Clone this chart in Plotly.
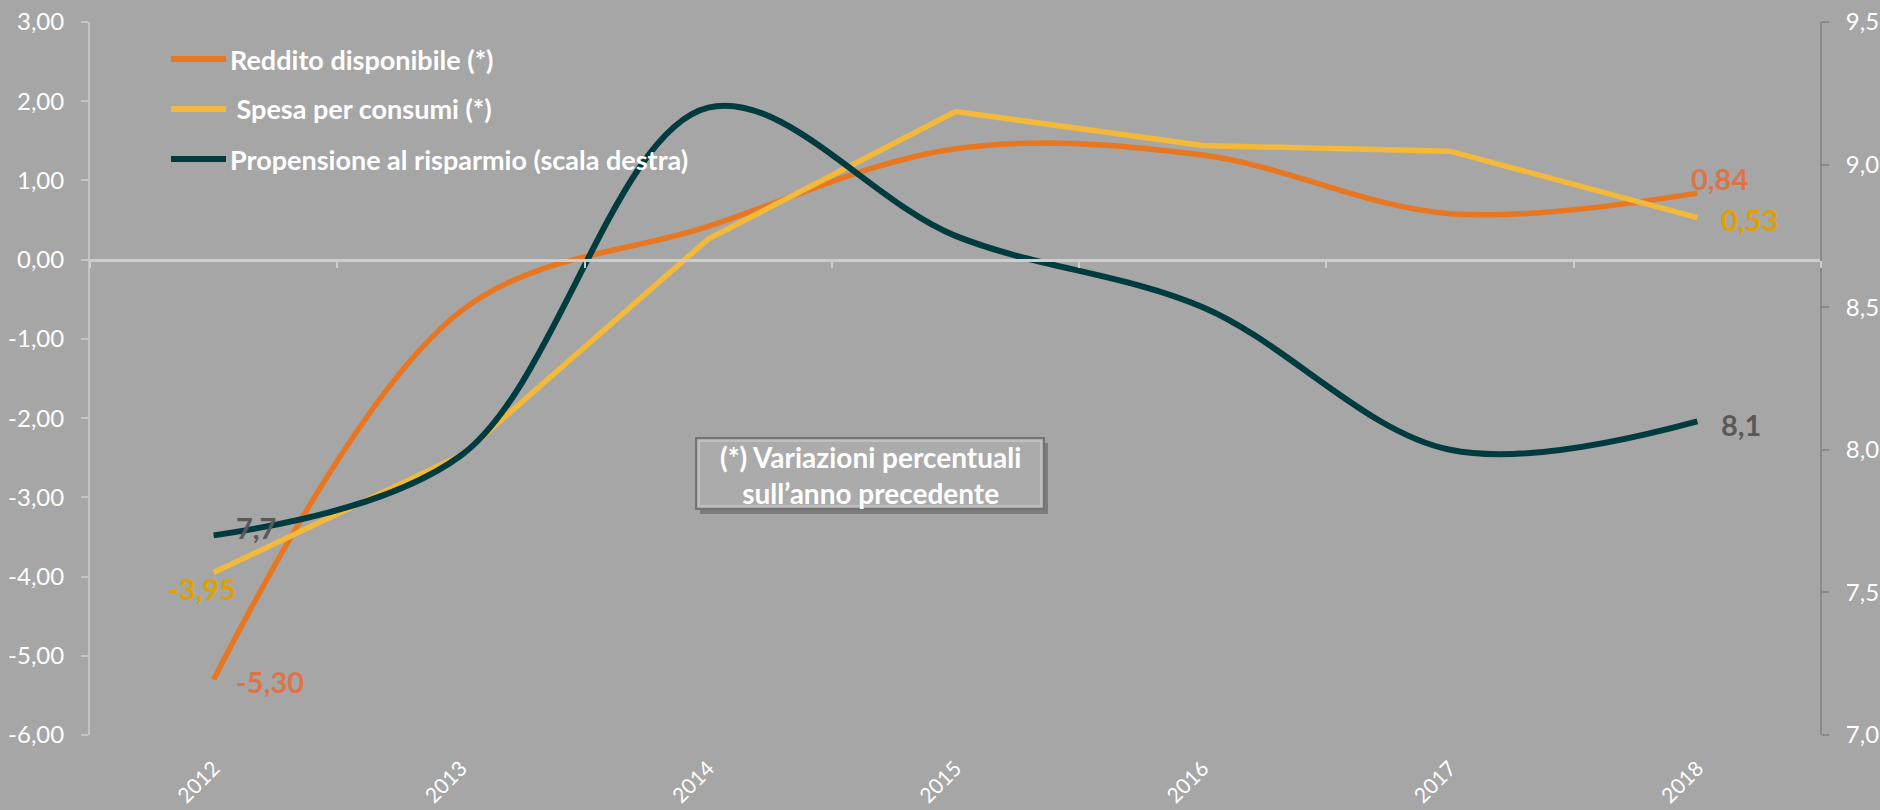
import plotly.graph_objects as go

# --- data -------------------------------------------------------------
anni = ["2012", "2013", "2014", "2015", "2016", "2017", "2018"]
reddito = [-5.30, -0.65, 0.42, 1.40, 1.32, 0.58, 0.84]        # % change
spesa = [-3.95, -2.47, 0.26, 1.87, 1.44, 1.37, 0.53]          # % change
propensione = [7.7, 7.98, 9.20, 8.75, 8.50, 8.00, 8.1]        # right scale

tick_sx = [3, 2, 1, 0, -1, -2, -3, -4, -5, -6]
tick_dx = [7.0, 7.5, 8.0, 8.5, 9.0, 9.5]

nomi = ["Reddito disponibile (*)", "\u00a0Spesa per consumi (*)",
        "Propensione al risparmio (scala destra)"]
nota = "(*) Variazioni percentuali<br>sull\u2019anno precedente"

# --- style ------------------------------------------------------------
FONT = "Lato"
BG = "#a6a6a6"
C_RED = "#e87722"
C_SPE = "#f2b93b"
C_PRO = "#003b3f"
L_RED = "#dd7448"
L_SPE = "#e0a000"
L_PRO = "#595959"

W, H = 1880, 810
ML, MR, MT, MB = 90, 59, 22, 75
PW, PH = W - ML - MR, H - MT - MB


def px_x(p):
    return (p - ML) / PW


def px_y(p):
    return (H - MB - p) / PH


def fmt(v, d):
    # decimal comma, plain hyphen for negatives
    return f"{v:.{d}f}".replace(".", ",")


xs = list(range(len(anni)))

fig = go.Figure()
fig.add_trace(go.Scatter(x=xs, y=reddito, mode="lines", name=nomi[0],
                         line=dict(color=C_RED, width=5.5, shape="spline", smoothing=1.0),
                         hoverinfo="skip"))
fig.add_trace(go.Scatter(x=xs, y=spesa, mode="lines", name=nomi[1],
                         line=dict(color=C_SPE, width=5.5),
                         hoverinfo="skip"))
fig.add_trace(go.Scatter(x=xs, y=propensione, mode="lines", name=nomi[2],
                         xaxis="x2", yaxis="y2",
                         line=dict(color=C_PRO, width=6, shape="spline", smoothing=1.0),
                         hoverinfo="skip"))

xr = [-0.5, len(anni) - 0.5]
yr = [min(tick_sx), max(tick_sx)]
y2r = [min(tick_dx), max(tick_dx)]
zero_pos = (0 - yr[0]) / (yr[1] - yr[0])

fig.update_layout(
    width=W, height=H,
    margin=dict(l=ML, r=MR, t=MT, b=MB, pad=0, autoexpand=False),
    paper_bgcolor=BG, plot_bgcolor=BG,
    showlegend=False,
    font=dict(family=FONT, color="white", size=24),
    xaxis=dict(range=xr, tickmode="array", tickvals=xs, ticktext=anni,
               tickangle=-45, showline=False, showgrid=False, zeroline=False,
               ticks="", ticklabelstandoff=16, automargin=False,
               tickfont=dict(family=FONT, size=21, color="white")),
    # category axis drawn along the zero line, ticks between categories
    xaxis2=dict(range=xr, overlaying="x", anchor="free", position=zero_pos,
                side="bottom", showline=True, linecolor="#cdcdcd", linewidth=2.5,
                ticks="outside", ticklen=7, tickwidth=2, tickcolor="#cdcdcd",
                tickmode="array", tickvals=[i - 0.5 for i in range(len(anni) + 1)],
                showticklabels=False, showgrid=False, zeroline=False,
                automargin=False),
    yaxis=dict(range=yr, tickmode="array", tickvals=tick_sx,
               ticktext=[fmt(v, 2) for v in tick_sx],
               showgrid=False, zeroline=False, automargin=False,
               showline=True, linecolor="#c4c4c4", linewidth=2,
               ticks="outside", ticklen=7, tickwidth=2, tickcolor="#c4c4c4",
               ticklabelstandoff=12,
               tickfont=dict(family=FONT, size=24, color="white")),
    yaxis2=dict(range=y2r, tickmode="array", tickvals=tick_dx,
                ticktext=[fmt(v, 1) for v in tick_dx],
                overlaying="y", anchor="free", position=1.0,
                side="right", showgrid=False, zeroline=False, automargin=False,
                showline=True, linecolor="#8a8a8a", linewidth=2,
                ticks="outside", ticklen=7, tickwidth=2, tickcolor="#8a8a8a",
                ticklabelstandoff=12,
                tickfont=dict(family=FONT, size=24, color="white")),
)

# --- end-point value labels ------------------------------------------
etichette = [
    # (x, y, text, colour, yref, xanchor, xshift, yshift)
    (xs[0], reddito[0], fmt(reddito[0], 2), L_RED, "y", "left", 20, -2),
    (xs[-1], reddito[-1], fmt(reddito[-1], 2), L_RED, "y", "center", 22, 15),
    (xs[0], spesa[0], fmt(spesa[0], 2), L_SPE, "y", "center", -12, -16),
    (xs[-1], spesa[-1], fmt(spesa[-1], 2), L_SPE, "y", "left", 22, -2),
    (xs[0], propensione[0], fmt(propensione[0], 1), L_PRO, "y2", "left", 20, 8),
    (xs[-1], propensione[-1], fmt(propensione[-1], 1), L_PRO, "y2", "left", 22, -3),
]
for x, y, t, c, yref, xa, dx, dy in etichette:
    fig.add_annotation(x=x, y=y, xref="x", yref=yref, text=t, showarrow=False,
                       xanchor=xa, yanchor="middle", xshift=dx, yshift=dy,
                       font=dict(family=FONT, size=29, color=c, weight="bold"))

# --- legend drawn as line swatches + labels ----------------------------
leg_rows = [59, 109, 159]
for nome, col, yy in zip(nomi, [C_RED, C_SPE, C_PRO], leg_rows):
    fig.add_shape(type="line", xref="paper", yref="paper",
                  x0=px_x(171), x1=px_x(226), y0=px_y(yy), y1=px_y(yy),
                  line=dict(color=col, width=6))
    fig.add_annotation(xref="paper", yref="paper", x=px_x(228), y=px_y(yy),
                       text=nome, showarrow=False, xanchor="left", yanchor="middle",
                       font=dict(family=FONT, size=27, color="white", weight="bold"))

# --- note box ------------------------------------------------------------
bx0, bx1, by0, by1 = 696, 1044, 438, 509
fig.add_shape(type="rect", xref="paper", yref="paper",
              x0=px_x(bx0 + 4), x1=px_x(bx1 + 4), y0=px_y(by1 + 5), y1=px_y(by0 + 5),
              line=dict(width=0), fillcolor="rgba(70,70,70,0.45)")
fig.add_shape(type="rect", xref="paper", yref="paper",
              x0=px_x(bx0), x1=px_x(bx1), y0=px_y(by1), y1=px_y(by0),
              line=dict(color="#747474", width=2), fillcolor="#ababab")
fig.add_shape(type="rect", xref="paper", yref="paper",
              x0=px_x(bx0 + 3), x1=px_x(bx1 - 3), y0=px_y(by1 - 3), y1=px_y(by0 + 3),
              line=dict(color="#c6c6c6", width=1.5), fillcolor="rgba(0,0,0,0)")
fig.add_annotation(xref="paper", yref="paper", x=px_x((bx0 + bx1) / 2),
                   y=px_y((by0 + by1) / 2 + 1), text=nota, showarrow=False,
                   xanchor="center", yanchor="middle", align="center",
                   font=dict(family=FONT, size=28, color="white", weight="bold"))

fig.write_html("out.html")
